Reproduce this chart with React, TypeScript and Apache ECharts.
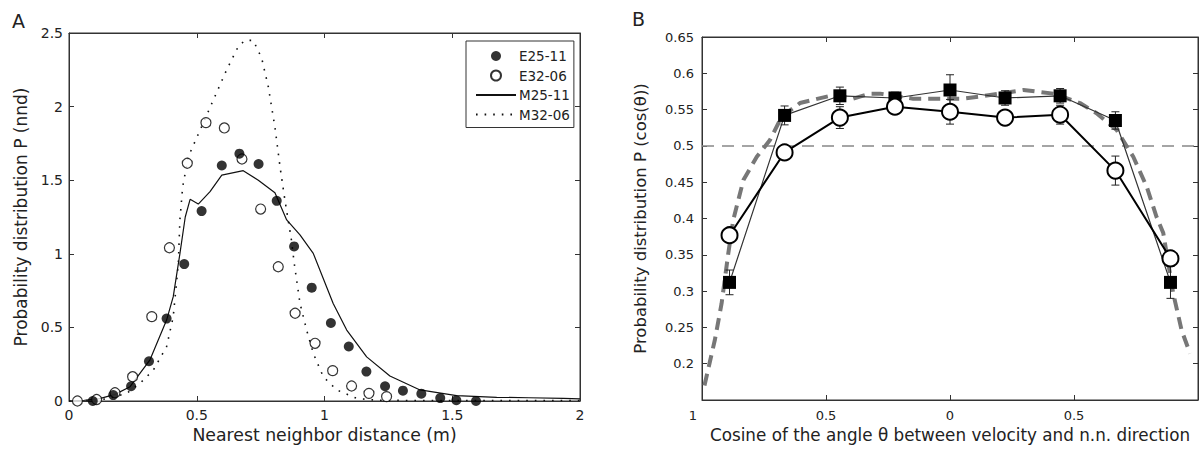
import React, { useEffect, useRef } from 'react';
import * as echarts from 'echarts';

// ---------- Panel A : nearest neighbour distance ----------
const e2511X = [0.093, 0.173, 0.243, 0.313, 0.382, 0.451, 0.519, 0.598, 0.667, 0.742, 0.813, 0.881, 0.95, 1.025, 1.095, 1.164, 1.237, 1.307, 1.379, 1.453, 1.516, 1.593];
const e2511Y = [0.0, 0.04, 0.1, 0.27, 0.56, 0.93, 1.29, 1.6, 1.68, 1.61, 1.36, 1.05, 0.77, 0.53, 0.37, 0.2, 0.1, 0.07, 0.05, 0.02, 0.005, 0.0];
const e3206X = [0.033, 0.108, 0.18, 0.249, 0.324, 0.393, 0.463, 0.536, 0.608, 0.677, 0.75, 0.819, 0.885, 0.963, 1.032, 1.106, 1.174, 1.243];
const e3206Y = [0.0, 0.01, 0.056, 0.165, 0.573, 1.041, 1.615, 1.891, 1.855, 1.644, 1.304, 0.912, 0.596, 0.392, 0.206, 0.102, 0.052, 0.03];
const m2511X = [0, 0.06, 0.12, 0.18, 0.239, 0.317, 0.382, 0.408, 0.434, 0.455, 0.474, 0.506, 0.552, 0.598, 0.682, 0.741, 0.806, 0.852, 0.904, 0.956, 1.034, 1.087, 1.165, 1.256, 1.374, 1.517, 1.674, 1.8, 1.935, 2];
const m2511Y = [0, 0.005, 0.016, 0.045, 0.097, 0.28, 0.55, 0.709, 1.0, 1.25, 1.37, 1.338, 1.422, 1.535, 1.565, 1.5, 1.415, 1.23, 1.128, 1.003, 0.663, 0.482, 0.3, 0.17, 0.075, 0.036, 0.025, 0.022, 0.018, 0.014];
const m3206X = [0, 0.1, 0.15, 0.226, 0.278, 0.33, 0.382, 0.408, 0.428, 0.434, 0.445, 0.467, 0.513, 0.565, 0.617, 0.663, 0.689, 0.721, 0.754, 0.78, 0.806, 0.826, 0.845, 0.87, 0.882, 0.904, 0.93, 0.956, 0.995, 1.048, 1.126, 1.204, 1.4, 1.6, 1.8, 2];
const m3206Y = [0, 0.005, 0.015, 0.052, 0.12, 0.21, 0.369, 0.573, 0.935, 1.23, 1.456, 1.66, 1.84, 2.045, 2.25, 2.41, 2.45, 2.45, 2.33, 2.135, 1.86, 1.59, 1.365, 1.1, 0.93, 0.664, 0.482, 0.324, 0.165, 0.075, 0.018, 0.005, 0.003, 0.003, 0.003, 0.003];
const legendNames = ['E25-11', 'E32-06', 'M25-11', 'M32-06'];

// ---------- Panel B : cosine distribution ----------
const binX = [-0.889, -0.667, -0.444, -0.222, 0, 0.222, 0.444, 0.667, 0.889];
const sqY = [0.312, 0.542, 0.569, 0.566, 0.577, 0.566, 0.569, 0.535, 0.312];
const sqErr = [0.017, 0.013, 0.012, 0.008, 0.021, 0.01, 0.01, 0.012, 0.022];
const ciY = [0.377, 0.491, 0.539, 0.554, 0.547, 0.539, 0.543, 0.466, 0.345];
const ciErr = [0.008, 0.008, 0.015, 0.008, 0.017, 0.008, 0.013, 0.02, 0.01];
const modelX = [-0.99, -0.948, -0.921, -0.894, -0.874, -0.833, -0.779, -0.726, -0.679, -0.605, -0.471, -0.39, -0.323, -0.282, -0.148, 0.05, 0.121, 0.296, 0.417, 0.524, 0.591, 0.672, 0.739, 0.793, 0.833, 0.86, 0.9, 0.934, 0.968];
const modelY = [0.17, 0.233, 0.283, 0.352, 0.398, 0.453, 0.485, 0.508, 0.54, 0.559, 0.57, 0.565, 0.572, 0.572, 0.565, 0.565, 0.568, 0.577, 0.572, 0.559, 0.545, 0.522, 0.485, 0.444, 0.402, 0.38, 0.297, 0.246, 0.214];
const refX = [-1, 1];
const refY = 0.5;

const FONT = 'DejaVu Sans';
const AX = '#333';
const TXT = '#222';

const zip = (xs: number[], ys: number[]) => xs.map((x, i) => [x, ys[i]]);

const baseAxis = (extra: any) => ({
  type: 'value',
  splitLine: { show: false },
  axisLine: { show: true, onZero: false, lineStyle: { color: AX, width: 1 } },
  axisTick: { show: true, inside: true, length: 5, lineStyle: { color: AX } },
  ...extra,
});

const errRender = (params: any, api: any) => {
  const x = api.value(0);
  const p1 = api.coord([x, api.value(1)]);
  const p2 = api.coord([x, api.value(2)]);
  const w = 4;
  const st = { stroke: '#222', lineWidth: 1 };
  return {
    type: 'group',
    children: [
      { type: 'line', shape: { x1: p1[0], y1: p1[1], x2: p2[0], y2: p2[1] }, style: st },
      { type: 'line', shape: { x1: p1[0] - w, y1: p1[1], x2: p1[0] + w, y2: p1[1] }, style: st },
      { type: 'line', shape: { x1: p2[0] - w, y1: p2[1], x2: p2[0] + w, y2: p2[1] }, style: st },
    ],
  };
};

const hidden = { color: 'rgba(0,0,0,0)', borderColor: 'rgba(0,0,0,0)', opacity: 0 };

export default function App() {
  const ref = useRef<HTMLDivElement>(null);
  useEffect(() => {
    const chart = echarts.init(ref.current!, null, { renderer: 'svg' });
    const option: any = {
      animation: false,
      backgroundColor: '#fff',
      textStyle: { fontFamily: FONT },
      grid: [
        { left: 69, top: 33, width: 511, height: 368, show: true, borderColor: AX, borderWidth: 1, backgroundColor: 'transparent' },
        { left: 702, top: 37, width: 496, height: 363, show: true, borderColor: AX, borderWidth: 1, backgroundColor: 'transparent' },
      ],
      graphic: [
        { type: 'text', left: 12, top: 11, style: { text: 'A', fontSize: 19, fontFamily: FONT, fill: TXT } },
        { type: 'text', left: 632, top: 9, style: { text: 'B', fontSize: 19, fontFamily: FONT, fill: TXT } },
      ],
      legend: {
        data: [
          { name: legendNames[0] },
          { name: legendNames[1] },
          { name: legendNames[2], itemStyle: hidden },
          { name: legendNames[3], itemStyle: hidden },
        ],
        orient: 'vertical',
        left: 466,
        top: 41,
        borderColor: AX,
        borderWidth: 1,
        padding: [8, 4, 6, 9],
        itemGap: 5.5,
        itemWidth: 40,
        itemHeight: 10,
        textStyle: { color: TXT, fontSize: 13.5, fontFamily: FONT, padding: [0, 0, 0, -2] },
        selectedMode: false,
      },
      xAxis: [
        baseAxis({
          gridIndex: 0, min: 0, max: 2, interval: 0.5, position: 'bottom',
          name: 'Nearest neighbor distance (m)', nameLocation: 'middle', nameGap: 25,
          nameTextStyle: { color: TXT, fontSize: 17.3, fontFamily: FONT },
          axisLabel: { color: TXT, fontSize: 14, fontFamily: FONT, margin: 7 },
        }),
        baseAxis({ gridIndex: 0, min: 0, max: 2, interval: 0.5, position: 'top', axisLabel: { show: false } }),
        baseAxis({
          gridIndex: 1, min: -1, max: 1, interval: 0.5, position: 'bottom',
          name: 'Cosine of the angle θ between velocity and n.n. direction', nameLocation: 'middle', nameGap: 26,
          nameTextStyle: { color: TXT, fontSize: 16.8, fontFamily: FONT },
          axisLabel: {
            color: TXT, fontSize: 13, fontFamily: FONT, margin: 9, showMaxLabel: false,
            formatter: (v: number) => (v <= -1 ? '{l|1}' : String(Math.abs(v))),
            rich: { l: { fontSize: 13, fontFamily: FONT, color: TXT, padding: [0, 18, 0, 0] } },
          },
        }),
        baseAxis({ gridIndex: 1, min: -1, max: 1, interval: 0.5, position: 'top', axisLabel: { show: false } }),
      ],
      yAxis: [
        baseAxis({
          gridIndex: 0, min: 0, max: 2.5, interval: 0.5, position: 'left',
          name: 'Probability distribution P (nnd)', nameLocation: 'middle', nameGap: 40,
          nameTextStyle: { color: TXT, fontSize: 17, fontFamily: FONT },
          axisLabel: { color: TXT, fontSize: 14, fontFamily: FONT, margin: 6 },
        }),
        baseAxis({ gridIndex: 0, min: 0, max: 2.5, interval: 0.5, position: 'right', axisLabel: { show: false } }),
        baseAxis({
          gridIndex: 1, min: 0.15, max: 0.65, interval: 0.05, position: 'left',
          name: 'Probability distribution P (cos(θ))', nameLocation: 'middle', nameGap: 53,
          nameTextStyle: { color: TXT, fontSize: 16.5, fontFamily: FONT },
          axisLabel: {
            color: TXT, fontSize: 13, fontFamily: FONT, margin: 8,
            formatter: (v: number) => (v < 0.17 ? '' : String(Number(v.toFixed(2)))),
          },
        }),
        baseAxis({ gridIndex: 1, min: 0.15, max: 0.65, interval: 0.05, position: 'right', axisLabel: { show: false } }),
      ],
      series: [
        // mirror-axis anchors (no marks drawn)
        { name: 'mirrorA', type: 'line', xAxisIndex: 1, yAxisIndex: 1, data: [], symbol: 'none', silent: true },
        { name: 'mirrorB', type: 'line', xAxisIndex: 3, yAxisIndex: 3, data: [], symbol: 'none', silent: true },
        // Panel A
        {
          name: 'M32-06', type: 'line', xAxisIndex: 0, yAxisIndex: 0, data: zip(m3206X, m3206Y),
          symbol: 'none', lineStyle: { color: '#111', width: 1.6, type: [1.6, 7] }, itemStyle: hidden, z: 2,
        },
        {
          name: 'M25-11', type: 'line', xAxisIndex: 0, yAxisIndex: 0, data: zip(m2511X, m2511Y),
          symbol: 'none', lineStyle: { color: '#111', width: 1.2 }, itemStyle: hidden, z: 2,
        },
        {
          name: 'E25-11', type: 'scatter', xAxisIndex: 0, yAxisIndex: 0, data: zip(e2511X, e2511Y),
          symbol: 'circle', symbolSize: 10, itemStyle: { color: '#000' }, z: 4,
        },
        {
          name: 'E32-06', type: 'scatter', xAxisIndex: 0, yAxisIndex: 0, data: zip(e3206X, e3206Y),
          symbol: 'circle', symbolSize: 10, itemStyle: { color: '#fff', borderColor: '#000', borderWidth: 1.2 }, z: 3,
        },
        // Panel B
        {
          name: 'ref', type: 'line', xAxisIndex: 2, yAxisIndex: 2, data: refX.map((x) => [x, refY]),
          symbol: 'none', lineStyle: { color: '#888', width: 1.5, type: [12, 8] }, z: 1,
        },
        {
          name: 'model', type: 'line', xAxisIndex: 2, yAxisIndex: 2, data: zip(modelX, modelY),
          symbol: 'none', lineStyle: { color: '#777', width: 4, type: [12, 7] }, z: 2,
        },
        {
          name: 'sqErr', type: 'custom', xAxisIndex: 2, yAxisIndex: 2,
          data: binX.map((x, i) => [x, sqY[i] - sqErr[i], sqY[i] + sqErr[i]]),
          renderItem: errRender, z: 3,
        },
        {
          name: 'squares', type: 'line', xAxisIndex: 2, yAxisIndex: 2, data: zip(binX, sqY),
          symbol: 'rect', symbolSize: 13, showAllSymbol: true,
          lineStyle: { color: '#333', width: 1.2 }, itemStyle: { color: '#000' }, z: 4,
        },
        {
          name: 'ciErr', type: 'custom', xAxisIndex: 2, yAxisIndex: 2,
          data: binX.map((x, i) => [x, ciY[i] - ciErr[i], ciY[i] + ciErr[i]]),
          renderItem: errRender, z: 5,
        },
        {
          name: 'circles', type: 'line', xAxisIndex: 2, yAxisIndex: 2, data: zip(binX, ciY),
          symbol: 'circle', symbolSize: 16, showAllSymbol: true,
          lineStyle: { color: '#000', width: 2 }, itemStyle: { color: '#fff', borderColor: '#000', borderWidth: 2 }, z: 6,
        },
      ],
    };
    chart.setOption(option);
    return () => chart.dispose();
  }, []);
  return (
    <div
      ref={ref}
      style={{ position: 'fixed', left: 0, top: 0, width: 1199, height: 449, background: '#fff' }}
    />
  );
}
